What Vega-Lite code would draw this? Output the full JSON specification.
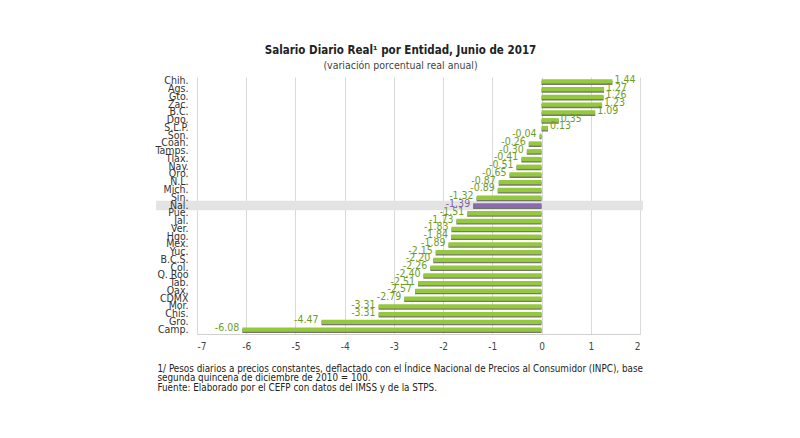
{
  "$schema": "https://vega.github.io/schema/vega-lite/v6.json",
  "width": 443,
  "height": 257,
  "autosize": {"type": "none"},
  "padding": {"left": 197, "top": 77, "right": 160, "bottom": 104},
  "background": "white",
  "title": {
    "text": "Salario Diario Real¹ por Entidad, Junio de 2017",
    "subtitle": "(variación porcentual real anual)",
    "anchor": "middle",
    "frame": "group",
    "dx": -18,
    "offset": 3,
    "font": "'Liberation Sans Narrow', 'DejaVu Sans Condensed', Lato, sans-serif",
    "fontSize": 11.5,
    "fontWeight": "bold",
    "color": "#222222",
    "subtitleFont": "'Liberation Sans Narrow', 'DejaVu Sans Condensed', Lato, sans-serif",
    "subtitleFontSize": 10.5,
    "subtitleColor": "#444444",
    "subtitlePadding": 5
  },
  "config": {
    "view": {"stroke": null},
    "font": "'Liberation Sans Narrow', 'DejaVu Sans Condensed', Lato, sans-serif",
    "locale": {
      "number": {"decimal": ".", "thousands": ",", "grouping": [3], "currency": ["$", ""], "minus": "-"}
    }
  },
  "data": {
    "values": [
      {"estado": "Chih.", "valor": 1.44},
      {"estado": "Ags.", "valor": 1.27},
      {"estado": "Gto.", "valor": 1.26},
      {"estado": "Zac.", "valor": 1.23},
      {"estado": "B.C.", "valor": 1.09},
      {"estado": "Dgo.", "valor": 0.35},
      {"estado": "S.L.P.", "valor": 0.13},
      {"estado": "Son.", "valor": -0.04},
      {"estado": "Coah.", "valor": -0.26},
      {"estado": "Tamps.", "valor": -0.30},
      {"estado": "Tlax.", "valor": -0.41},
      {"estado": "Nay.", "valor": -0.51},
      {"estado": "Qro.", "valor": -0.65},
      {"estado": "N.L.", "valor": -0.87},
      {"estado": "Mich.", "valor": -0.89},
      {"estado": "Sin.", "valor": -1.32},
      {"estado": "Nal.", "valor": -1.39},
      {"estado": "Pue.", "valor": -1.51},
      {"estado": "Jal.", "valor": -1.73},
      {"estado": "Ver.", "valor": -1.83},
      {"estado": "Hgo.", "valor": -1.84},
      {"estado": "Méx.", "valor": -1.89},
      {"estado": "Yuc.", "valor": -2.15},
      {"estado": "B.C.S.", "valor": -2.20},
      {"estado": "Col.", "valor": -2.26},
      {"estado": "Q. Roo", "valor": -2.40},
      {"estado": "Tab.", "valor": -2.51},
      {"estado": "Oax.", "valor": -2.57},
      {"estado": "CDMX", "valor": -2.79},
      {"estado": "Mor.", "valor": -3.31},
      {"estado": "Chis.", "valor": -3.31},
      {"estado": "Gro.", "valor": -4.47},
      {"estado": "Camp.", "valor": -6.08}
    ]
  },
  "encoding": {
    "y": {
      "field": "estado",
      "type": "nominal",
      "sort": ["Chih.", "Ags.", "Gto.", "Zac.", "B.C.", "Dgo.", "S.L.P.", "Son.", "Coah.", "Tamps.", "Tlax.", "Nay.", "Qro.", "N.L.", "Mich.", "Sin.", "Nal.", "Pue.", "Jal.", "Ver.", "Hgo.", "Méx.", "Yuc.", "B.C.S.", "Col.", "Q. Roo", "Tab.", "Oax.", "CDMX", "Mor.", "Chis.", "Gro.", "Camp."],
      "scale": {"paddingInner": 0.45, "paddingOuter": 0.3},
      "axis": {
        "title": null,
        "domain": false,
        "ticks": false,
        "zindex": 1,
        "labelPadding": 9,
        "labelFontSize": 10.5,
        "labelColor": "#333333",
        "labelOverlap": false,
        "labelLimit": 0
      }
    }
  },
  "layer": [
    {
      "transform": [{"filter": "datum.estado === 'Nal.'"}],
      "mark": {"type": "bar", "color": "#e3e3e3", "height": {"band": 2.2}},
      "encoding": {
        "x": {"datum": -7.83, "type": "quantitative", "scale": {"domain": [-7, 2], "nice": false, "zero": false}},
        "x2": {"datum": 2.06}
      }
    },
    {
      "mark": {"type": "bar", "color": "#5e6150", "opacity": 0.85, "yOffset": 1.4},
      "encoding": {
        "x": {
          "field": "valor",
          "type": "quantitative",
          "scale": {"domain": [-7, 2], "nice": false, "zero": false},
          "axis": {
            "values": [-7, -6, -5, -4, -3, -2, -1, 0, 1, 2],
            "grid": true,
            "gridColor": "#d9d9d9",
            "ticks": false,
            "domainColor": "#d0d0d0",
            "labelPadding": 7,
            "labelFontSize": 10,
            "labelColor": "#444444",
            "title": [
              "1/ Pesos diarios a precios constantes, deflactado con el Índice Nacional de Precios al Consumidor (INPC), base",
              "segunda quincena de diciembre de 2010 = 100.",
              "Fuente: Elaborado por el CEFP con datos  del IMSS y de la STPS."
            ],
            "titleAnchor": "start",
            "titleAlign": "left",
            "titleBaseline": "top",
            "titleX": -40,
            "titleY": 29,
            "titleFontSize": 9.8,
            "titleFontWeight": "normal",
            "titleColor": "#222222",
            "titleLineHeight": 9.5
          }
        },
        "x2": {"datum": 0}
      }
    },
    {
      "mark": {"type": "bar"},
      "encoding": {
        "x": {"field": "valor", "type": "quantitative", "scale": {"domain": [-7, 2], "nice": false, "zero": false}},
        "x2": {"datum": 0},
        "color": {
          "condition": {"test": "datum.estado === 'Nal.'", "value": "#8a6bb0"},
          "value": "#94c83d"
        }
      }
    },
    {
      "transform": [{"filter": "datum.valor >= 0"}],
      "mark": {"type": "text", "align": "left", "baseline": "middle", "dx": 2, "dy": -1.5, "fontSize": 10.5, "color": "#6f9c1f"},
      "encoding": {
        "x": {"field": "valor", "type": "quantitative", "scale": {"domain": [-7, 2], "nice": false, "zero": false}},
        "text": {"field": "valor", "type": "quantitative", "format": ".2f"}
      }
    },
    {
      "transform": [{"filter": "datum.valor < 0"}],
      "mark": {"type": "text", "align": "right", "baseline": "middle", "dx": -3, "dy": -1.5, "fontSize": 10.5},
      "encoding": {
        "x": {"field": "valor", "type": "quantitative", "scale": {"domain": [-7, 2], "nice": false, "zero": false}},
        "text": {"field": "valor", "type": "quantitative", "format": ".2f"},
        "color": {
          "condition": {"test": "datum.estado === 'Nal.'", "value": "#7d5fa6"},
          "value": "#6f9c1f"
        }
      }
    }
  ]
}
